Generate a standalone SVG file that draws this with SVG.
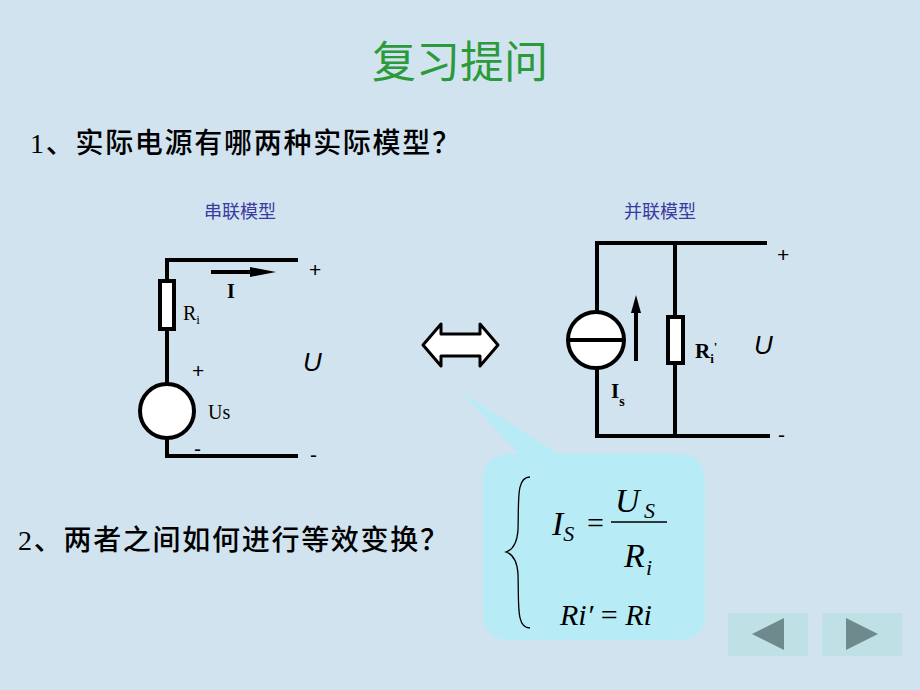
<svg xmlns="http://www.w3.org/2000/svg" width="920" height="690" viewBox="0 0 920 690">
<style>
.w{stroke:#000;stroke-width:4;fill:none}
.c{stroke:#000;stroke-width:4;fill:#fff}
.cn{font-family:"Liberation Serif","Noto Sans CJK SC",serif;fill:#000}
.bl{font-family:"Noto Sans CJK SC",sans-serif;fill:#3a3aa0;font-size:18px}
.s{font-family:"Liberation Sans",sans-serif;font-size:21px}
.u{font-family:"Liberation Sans",sans-serif;font-size:26px;font-style:italic}
.m{font-family:"Liberation Serif",serif;font-style:italic}
</style>
<rect width="920" height="690" fill="#d2e3f0"/>
<text x="460" y="78" text-anchor="middle" font-family="Noto Sans CJK SC,sans-serif" font-size="44" fill="#2a9a3a">复习提问</text>
<text x="30" y="153" class="cn" style="font-size:28px;font-weight:500" textLength="430">1、实际电源有哪两种实际模型？</text>
<text x="18" y="550" class="cn" style="font-size:28px;font-weight:500" textLength="430">2、两者之间如何进行等效变换？</text>
<g id="series">
<text x="240" y="218" text-anchor="middle" class="bl">串联模型</text>
<path class="w" d="M298 260H167V456H298"/>
<rect class="c" x="160" y="281" width="14" height="48" stroke-width="3"/>
<circle class="c" cx="167" cy="411" r="27"/>
<path class="w" d="M211 272H255" stroke-width="3"/>
<path d="M250 267L276 272L250 277Z"/>
<text x="227" y="298" class="cn" font-size="20" font-weight="bold">I</text>
<text x="183" y="320" class="cn" font-size="20">R<tspan font-size="13" dy="4">i</tspan></text>
<text x="192" y="378" class="s">+</text>
<text x="208" y="419" class="cn" font-size="20">Us</text>
<text x="194" y="456" class="s">-</text>
<text x="309" y="277" class="s">+</text>
<text x="303" y="371" class="u">U</text>
<text x="310" y="462" class="s">-</text>
</g>
<g id="parallel">
<text x="660" y="218" text-anchor="middle" class="bl">并联模型</text>
<path class="w" d="M767 243H597V436H770M675 243V436"/>
<circle class="c" cx="596" cy="340" r="28"/>
<path class="w" d="M568 340H624" stroke-width="3"/>
<rect class="c" x="668" y="317" width="15" height="46" stroke-width="3"/>
<path class="w" d="M636 361V310" stroke-width="3"/>
<path d="M631 313L636 295L641 313Z"/>
<text x="695" y="358" class="cn" font-size="21" font-weight="bold">R<tspan font-size="13" dy="5">i</tspan><tspan font-size="13" dy="-12">'</tspan></text>
<text x="611" y="398" class="cn" font-size="21" font-weight="bold">I<tspan font-size="14" dy="8">s</tspan></text>
<text x="777" y="262" class="s">+</text>
<text x="754" y="354" class="u">U</text>
<text x="778" y="442" class="s">-</text>
</g>
<g id="equiv">
<path d="M423 345L441 324V334H480V324L498 345L480 366V356H441V366Z" fill="#fff" stroke="#000" stroke-width="3" stroke-linejoin="round"/>
</g>
<g id="bubble">
<path d="M462 393L560 455H520Z" fill="#b7ecf6"/>
<rect x="483" y="454" width="222" height="186" rx="24" fill="#b7ecf6"/>
<path d="M530 477C516 477 519 500 518 530C517 545 512 550 506 552C512 554 517 559 518 574C519 605 516 628 530 628" fill="none" stroke="#000" stroke-width="1.3"/>
<text x="552" y="535" class="m" font-size="34">I<tspan font-size="22" dy="6">S</tspan></text>
<text x="587" y="533" font-family="Liberation Serif,serif" font-size="30">=</text>
<line x1="611" y1="522" x2="667" y2="522" stroke="#000" stroke-width="1.3"/>
<text x="615" y="512" class="m" font-size="34">U</text>
<text x="644" y="518" class="m" font-size="22">S</text>
<text x="624" y="567" class="m" font-size="34">R</text>
<text x="646" y="575" class="m" font-size="22">i</text>
<text x="560" y="625" class="m" font-size="30">Ri′ <tspan font-style="normal">=</tspan> Ri</text>
</g>
<g id="nav">
<rect x="728" y="613" width="80" height="43" fill="#bfe0e4"/>
<rect x="822" y="613" width="80" height="43" fill="#bfe0e4"/>
<path d="M752 634L784 618V650Z" fill="#6e8a8c"/>
<path d="M846 618L878 634L846 650Z" fill="#6e8a8c"/>
</g>
</svg>
